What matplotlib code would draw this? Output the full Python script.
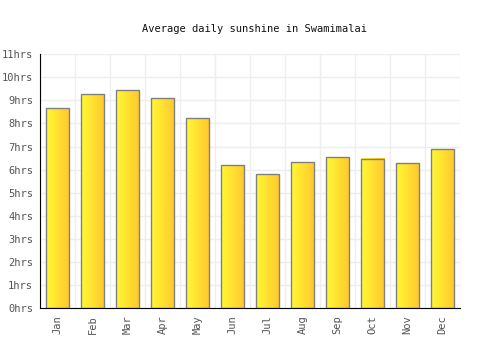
"""Average daily sunshine bar chart with yellow gradient bars."""
import numpy as np
import matplotlib
matplotlib.use("Agg")
import matplotlib.pyplot as plt
from matplotlib.colors import LinearSegmentedColormap

months = ["Jan", "Feb", "Mar", "Apr", "May", "Jun",
          "Jul", "Aug", "Sep", "Oct", "Nov", "Dec"]
sunshine = [8.66, 9.27, 9.44, 9.09, 8.23, 6.19,
            5.80, 6.32, 6.53, 6.46, 6.27, 6.89]
yticks = list(range(0, 12))
ylabels = [f"{v}hrs" for v in yticks]

FONT = "DejaVu Sans Mono"
grad = LinearSegmentedColormap.from_list("sun", ["#fff833", "#ffc82e"])

fig = plt.figure(figsize=(5, 3.5), dpi=100)
ax = fig.add_axes([0.08, 0.12, 0.84, 0.725])

x = np.arange(len(months))
bars = ax.bar(x, sunshine, width=0.66, facecolor="none",
              edgecolor="#808080", linewidth=1.0, zorder=3)
g = np.linspace(0, 1, 64).reshape(1, -1)
for b in bars:
    x0, w, h = b.get_x(), b.get_width(), b.get_height()
    ax.imshow(g, cmap=grad, aspect="auto", extent=(x0, x0 + w, 0, h),
              zorder=2, interpolation="bilinear")

ax.set_xlim(-0.5, len(months) - 0.5)
ax.set_ylim(0, 11)
ax.set_yticks(yticks)
ax.set_yticklabels(ylabels, fontfamily=FONT, fontsize=7.5, color="#555555")
ax.set_xticks(x)
ax.set_xticklabels(months, rotation=90, fontfamily=FONT, fontsize=7.5,
                   color="#555555")
ax.set_xticks(np.arange(-0.5, len(months)), minor=True)
ax.tick_params(axis="both", length=0, pad=5)
ax.tick_params(axis="x", which="minor", length=0)
ax.grid(True, which="major", axis="y", color="#eeeeee", linewidth=1, zorder=0)
ax.grid(True, which="minor", axis="x", color="#eeeeee", linewidth=1, zorder=0)
for s in ("top", "right"):
    ax.spines[s].set_visible(False)
ax.spines["left"].set_color("black")
ax.spines["bottom"].set_color("black")
ax.set_axisbelow(True)

fig.text(0.508, 0.918, "Average daily sunshine in Swamimalai", ha="center",
         va="center", fontfamily=FONT, fontsize=7.5, color="#111111")

fig.savefig("out.png", dpi=100)
plt.close(fig)
